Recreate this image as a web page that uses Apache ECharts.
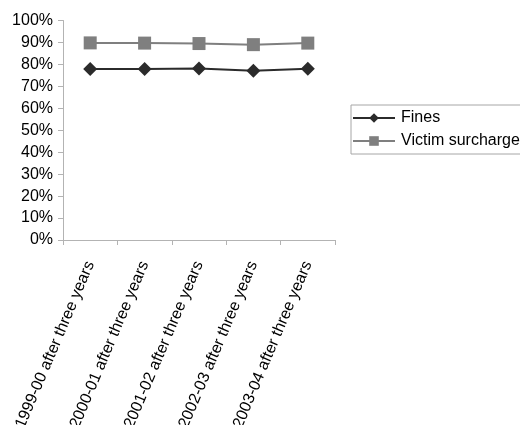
<!DOCTYPE html>
<html>
<head>
<meta charset="utf-8">
<script src="https://cdn.jsdelivr.net/npm/echarts@6/dist/echarts.min.js"></script>
<style>
  html, body { margin: 0; padding: 0; background: #fff; }
  #chart { width: 520px; height: 425px; }
</style>
</head>
<body>
<div id="chart"></div>
<script>
// Share of impositions paid, measured three years after sentencing
const categories = [
  '1999-00 after three years',
  '2000-01 after three years',
  '2001-02 after three years',
  '2002-03 after three years',
  '2003-04 after three years'
];
const fines = [0.779, 0.779, 0.781, 0.771, 0.780];
const victimSurcharge = [0.898, 0.897, 0.895, 0.890, 0.897];
const yTicks = [0, 0.1, 0.2, 0.3, 0.4, 0.5, 0.6, 0.7, 0.8, 0.9, 1.0];

const font = 'Liberation Sans, Arial, sans-serif';
const axisGray = '#b3b3b3';

const chart = echarts.init(document.getElementById('chart'), null, { renderer: 'canvas' });
chart.setOption({
  animation: false,
  backgroundColor: '#fff',
  grid: { left: 63, right: 185, top: 20.5, bottom: 185, outerBoundsMode: 'none', containLabel: false },
  legend: {
    orient: 'vertical',
    left: 351,
    top: 105,
    padding: [5, 12, 5, 1],
    itemGap: 7,
    itemWidth: 42,
    itemHeight: 12,
    borderColor: '#a6a6a6',
    borderWidth: 1,
    textStyle: { fontFamily: font, fontSize: 16, color: '#000', padding: [0, 0, 0, 1] },
    data: ['Fines', 'Victim surcharge']
  },
  xAxis: {
    type: 'category',
    data: categories,
    boundaryGap: true,
    axisLine: { lineStyle: { color: axisGray, width: 1 } },
    axisTick: { show: true, length: 5, lineStyle: { color: axisGray }, alignWithLabel: false },
    axisLabel: {
      rotate: 67,
      fontFamily: font,
      fontSize: 16,
      color: '#000',
      margin: 22,
      interval: 0,
      hideOverlap: false
    },
    splitLine: { show: false }
  },
  yAxis: {
    type: 'value',
    min: yTicks[0],
    max: yTicks[yTicks.length - 1],
    interval: 0.1,
    axisLine: { show: true, lineStyle: { color: axisGray, width: 1 } },
    axisTick: { show: true, length: 5, lineStyle: { color: axisGray } },
    axisLabel: {
      fontFamily: font,
      fontSize: 16,
      color: '#000',
      margin: 10,
      formatter: v => Math.round(v * 100) + '%'
    },
    splitLine: { show: false }
  },
  series: [
    {
      name: 'Fines',
      type: 'line',
      data: fines,
      symbol: 'diamond',
      symbolSize: 14,
      color: '#2b2b2b',
      lineStyle: { width: 2, color: '#2b2b2b' },
      itemStyle: { color: '#2b2b2b' }
    },
    {
      name: 'Victim surcharge',
      type: 'line',
      data: victimSurcharge,
      symbol: 'rect',
      symbolSize: 13,
      color: '#7f7f7f',
      lineStyle: { width: 2, color: '#7f7f7f' },
      itemStyle: { color: '#7f7f7f' }
    }
  ]
});
</script>
</body>
</html>
